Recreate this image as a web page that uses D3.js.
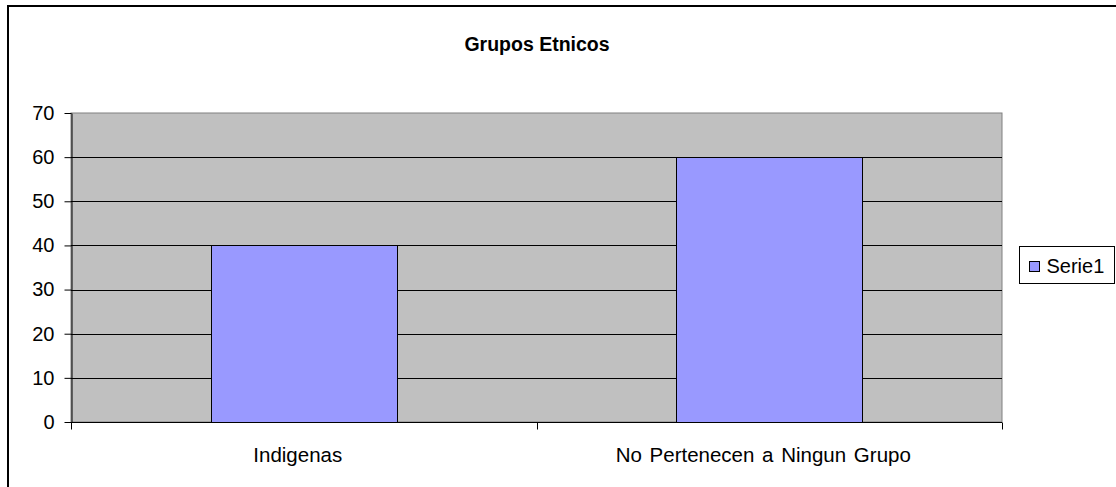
<!DOCTYPE html>
<html>
<head>
<meta charset="utf-8">
<script src="https://cdn.jsdelivr.net/npm/d3@7"></script>
<style>
  body { margin: 0; background: #fff; }
  text { font-family: "Liberation Sans", Arial, sans-serif; fill: #000; }
</style>
</head>
<body>
<div id="chart"></div>
<script>
// data
var categories = ["Indigenas", "No Pertenecen a Ningun Grupo"];
var serie1 = [40, 60];
var seriesName = "Serie1";
var yTicks = [0, 10, 20, 30, 40, 50, 60, 70];
var chartTitle = "Grupos Etnicos";

var width = 1116, height = 487;
var plot = { left: 71, right: 1002, top: 113, bottom: 422 };

var svg = d3.select("#chart")
    .append("svg")
    .attr("width", width)
    .attr("height", height)

// outer chart frame (runs off the right and bottom edge)
svg.append("rect")
    .attr("x", 8).attr("y", 6)
    .attr("width", 1120).attr("height", 500)
    .attr("fill", "white")
    .attr("stroke", "black")
    .attr("stroke-width", 2)

var x = d3.scaleBand()
    .domain(categories)
    .range([plot.left, plot.right])
    .paddingInner(0)
    .paddingOuter(0)

var y = d3.scaleLinear()
    .domain([0, 70])
    .range([plot.bottom, plot.top])

// grey plot area
svg.append("rect")
    .attr("x", plot.left).attr("y", plot.top)
    .attr("width", plot.right - plot.left)
    .attr("height", plot.bottom - plot.top)
    .attr("fill", "#c0c0c0")
    .attr("stroke", "#808080")

// gridlines
svg.append("g")
    .selectAll("line")
    .data(yTicks.filter(function(d) { return d > 0 && d < 70; }))
    .enter().append("line")
    .attr("x1", plot.left).attr("x2", plot.right)
    .attr("y1", function(d) { return Math.round(y(d)) + 0.5; })
    .attr("y2", function(d) { return Math.round(y(d)) + 0.5; })
    .attr("stroke", "black")

// bars, 40% of the band, centred
var barW = x.bandwidth() * 0.4;
svg.append("g")
    .selectAll("rect")
    .data(serie1)
    .enter().append("rect")
    .attr("x", function(d, i) { return Math.round(x(categories[i]) + (x.bandwidth() - barW) / 2) + 0.5; })
    .attr("y", function(d) { return Math.round(y(d)) + 0.5; })
    .attr("width", Math.round(barW))
    .attr("height", function(d) { return Math.round(y(0)) - Math.round(y(d)); })
    .attr("fill", "#9999ff")
    .attr("stroke", "black")

// y axis
var yAxis = svg.append("g")
    .attr("transform", "translate(" + (plot.left + 0.5) + ",0)")
    .call(d3.axisLeft(y).tickValues(yTicks).tickSize(7).tickPadding(10).tickSizeOuter(0))
yAxis.selectAll("text").style("font-size", "20px").style("font-family", "Liberation Sans, Arial, sans-serif")
yAxis.select(".domain").attr("stroke", "black")

// x axis: ticks at the band edges, labels centred
var xAxisG = svg.append("g")
    .attr("transform", "translate(0," + (Math.round(y(0)) + 0.5) + ")")
xAxisG.append("line")
    .attr("x1", plot.left).attr("x2", plot.right)
    .attr("stroke", "black")
var edges = categories.map(function(c) { return x(c); }).concat([plot.right]);
xAxisG.selectAll("line.tick")
    .data(edges)
    .enter().append("line")
    .attr("class", "tick")
    .attr("x1", function(d) { return Math.round(d) + 0.5; })
    .attr("x2", function(d) { return Math.round(d) + 0.5; })
    .attr("y1", 0).attr("y2", 7)
    .attr("stroke", "black")
xAxisG.selectAll("text")
    .data(categories)
    .enter().append("text")
    .attr("x", function(d) { return x(d) + x.bandwidth() / 2 - 6; })
    .attr("y", 39)
    .attr("text-anchor", "middle")
    .style("font-size", "20.5px")
    .style("word-spacing", "2px")
    .text(function(d) { return d; })

// title
svg.append("text")
    .attr("x", 537)
    .attr("y", 51)
    .attr("text-anchor", "middle")
    .style("font-size", "19.5px")
    .style("font-weight", "bold")
    .text(chartTitle)

// legend
var legend = svg.append("g")
    .attr("transform", "translate(1019.5,246.5)")
legend.append("rect")
    .attr("width", 95).attr("height", 37)
    .attr("fill", "white")
    .attr("stroke", "black")
legend.append("rect")
    .attr("x", 10).attr("y", 15)
    .attr("width", 10).attr("height", 10)
    .attr("fill", "#9999ff")
    .attr("stroke", "black")
legend.append("text")
    .attr("x", 27).attr("y", 26.5)
    .style("font-size", "20px")
    .text(seriesName)
</script>
</body>
</html>
